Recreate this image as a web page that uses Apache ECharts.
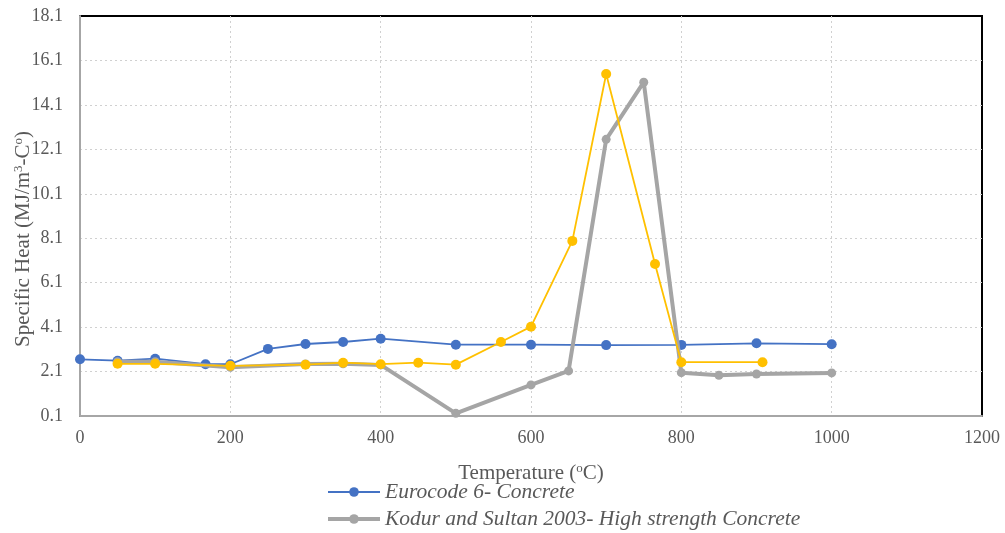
<!DOCTYPE html>
<html>
<head>
<meta charset="utf-8">
<script src="https://cdn.jsdelivr.net/npm/echarts@6/dist/echarts.min.js"></script>
<style>html,body{margin:0;padding:0;background:#fff}#c{width:1005px;height:533px}</style>
</head>
<body>
<div id="c"></div>
<script>
// Eurocode 6 - Concrete
const euroT = [0, 50, 100, 167, 200, 250, 300, 350, 400, 500, 600, 700, 800, 900, 1000];
const euroV = [2.65, 2.59, 2.68, 2.43, 2.43, 3.12, 3.34, 3.43, 3.58, 3.31, 3.31, 3.29, 3.30, 3.37, 3.33];
// Kodur and Sultan 2003 - High strength Concrete
const kodurT = [50, 100, 200, 300, 350, 400, 500, 600, 650, 700, 750, 800, 850, 900, 1000];
const kodurV = [2.54, 2.54, 2.29, 2.44, 2.45, 2.40, 0.22, 1.50, 2.13, 12.55, 15.12, 2.05, 1.93, 1.99, 2.04];
// third (unlabelled) series
const thirdT = [50, 100, 200, 300, 350, 400, 450, 500, 560, 600, 655, 700, 765, 800, 908];
const thirdV = [2.45, 2.45, 2.36, 2.41, 2.50, 2.43, 2.50, 2.41, 3.43, 4.12, 7.98, 15.49, 6.94, 2.52, 2.52];

const names = ['Eurocode 6- Concrete', 'Kodur and Sultan 2003- High strength Concrete', 'Series 3'];
const pair = (xs, ys) => xs.map((x, i) => [x, ys[i]]);

const serif = 'Liberation Serif, Times New Roman, serif';
const txt = '#595959';
const supStyle = { fontFamily: serif, fontSize: 13, color: txt, verticalAlign: 'top', padding: [0, 0, 9, 0] };
const baseStyle = { fontFamily: serif, fontSize: 21, color: txt };

const chart = echarts.init(document.getElementById('c'));
chart.setOption({
  animation: false,
  grid: { left: 80, right: 23, top: 16, bottom: 117, outerBoundsMode: 'none', containLabel: false,
          show: true, borderColor: '#000', borderWidth: 2, backgroundColor: 'transparent' },
  legend: {
    data: [
      { name: names[0], lineStyle: { width: 2 } },
      { name: names[1], lineStyle: { width: 4 } }
    ],
    orient: 'vertical', left: 326, top: 481, padding: 0, itemGap: 5, itemWidth: 52, itemHeight: 12,
    height: 60,
    textStyle: { fontFamily: serif, fontStyle: 'italic', fontSize: 21.5, lineHeight: 21, color: txt }
  },
  xAxis: {
    type: 'value', min: 0, max: 1200, interval: 200,
    name: '{a|Temperature (}{s|o}{a|C)}',
    nameLocation: 'middle', nameGap: 46, nameMoveOverlap: false,
    nameTextStyle: { fontFamily: serif, fontSize: 21, color: txt, rich: { a: baseStyle, s: supStyle } },
    axisLine: { show: true, lineStyle: { color: '#A6A6A6', width: 2 } },
    axisTick: { show: false },
    axisLabel: { fontFamily: serif, fontSize: 18, color: txt, margin: 13, formatter: v => String(v) },
    splitLine: { show: true, showMinLine: false, showMaxLine: false, lineStyle: { color: '#D0D0D0', type: [2, 3], width: 1 } }
  },
  yAxis: {
    type: 'value', min: 0.1, max: 18.1, interval: 2,
    name: '{a|Specific Heat (MJ/m}{s|3}{a|-C}{s|o}{a|)}',
    nameLocation: 'middle', nameGap: 46, nameMoveOverlap: false,
    nameTextStyle: { fontFamily: serif, fontSize: 21, color: txt, padding: [0, 46, 0, 0], rich: { a: baseStyle, s: supStyle } },
    axisLine: { show: true, lineStyle: { color: '#A6A6A6', width: 2 } },
    axisTick: { show: false },
    axisLabel: { fontFamily: serif, fontSize: 18, color: txt, margin: 17, formatter: v => v.toFixed(1) },
    splitLine: { show: true, showMinLine: false, showMaxLine: false, lineStyle: { color: '#D0D0D0', type: [2, 3], width: 1 } }
  },
  series: [
    {
      name: names[1], type: 'line', data: pair(kodurT, kodurV), z: 2,
      symbol: 'circle', symbolSize: 9, color: '#A5A5A5',
      lineStyle: { width: 4, color: '#A5A5A5' }, itemStyle: { color: '#A5A5A5' }
    },
    {
      name: names[2], type: 'line', data: pair(thirdT, thirdV), z: 3,
      symbol: 'circle', symbolSize: 10, color: '#FFC000',
      lineStyle: { width: 1.8, color: '#FFC000' }, itemStyle: { color: '#FFC000' }
    },
    {
      name: names[0], type: 'line', data: pair(euroT, euroV), z: 1,
      symbol: 'circle', symbolSize: 10, color: '#4472C4',
      lineStyle: { width: 1.8, color: '#4472C4' }, itemStyle: { color: '#4472C4' }
    }
  ]
});
</script>
</body>
</html>
